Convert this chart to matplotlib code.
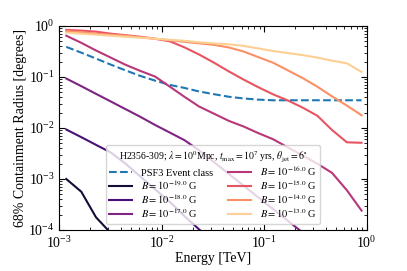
import numpy as np
import matplotlib
matplotlib.use('Agg')
import matplotlib.pyplot as plt

plt.rcParams['font.family'] = ['Liberation Serif', 'DejaVu Serif']
plt.rcParams['mathtext.fontset'] = 'stix'

# energies in TeV (bin centres)
energy = [1.17e-3, 1.64e-3, 2.28e-3, 3.18e-3, 4.43e-3, 6.17e-3, 8.59e-3,
          1.20e-2, 1.67e-2, 2.32e-2, 3.24e-2, 4.51e-2, 6.28e-2, 8.75e-2,
          0.122, 0.170, 0.237, 0.330, 0.459, 0.640, 0.891]

psf3 = [0.39, 0.30, 0.23, 0.175, 0.135, 0.105, 0.085, 0.07, 0.061, 0.052,
        0.046, 0.041, 0.038, 0.036, 0.035, 0.035, 0.035, 0.035, 0.035,
        0.035, 0.035]

# log10 of 68% containment radius [deg] for each field strength
b_labels = ['-19.0', '-18.0', '-17.0', '-16.0', '-15.0', '-14.0', '-13.0']
logr_b19 = [-3.0, -3.25, -3.75, -4.06, -4.4]
logr_b18 = [-2.03, -2.18, -2.33, -2.48, -2.70, -2.95, -3.20, -3.45, -3.73,
            -3.99, -4.25]
logr_b17 = [-1.03, -1.18, -1.33, -1.48, -1.63, -1.78, -1.94, -2.09, -2.24,
            -2.44, -2.67, -2.90, -3.13, -3.36, -3.59, -3.82, -4.05, -4.3]
logr_b16 = [-0.19, -0.33, -0.48, -0.62, -0.76, -0.88, -0.99, -1.19, -1.39,
            -1.58, -1.72, -1.86, -1.97, -2.10, -2.22, -2.38, -2.54, -2.70,
            -2.88, -3.22, -3.62]
logr_b15 = [-0.075, -0.09, -0.11, -0.15, -0.18, -0.21, -0.25, -0.30, -0.42,
            -0.56, -0.72, -0.89, -1.05, -1.20, -1.34, -1.46, -1.60, -1.76,
            -2.04, -2.28, -2.29]
logr_b14 = [-0.10, -0.12, -0.15, -0.17, -0.19, -0.22, -0.25, -0.28, -0.31,
            -0.34, -0.37, -0.42, -0.50, -0.61, -0.72, -0.87, -1.02, -1.19,
            -1.38, -1.56, -1.75]
logr_b13 = [-0.13, -0.15, -0.17, -0.19, -0.21, -0.23, -0.25, -0.27, -0.29,
            -0.32, -0.34, -0.36, -0.39, -0.44, -0.49, -0.53, -0.57, -0.62,
            -0.68, -0.73, -0.90]
curves = [logr_b19, logr_b18, logr_b17, logr_b16, logr_b15, logr_b14, logr_b13]

fig = plt.figure(figsize=(4.07, 2.71), dpi=100)
ax = fig.add_axes([0.1457, 0.1513, 0.7553, 0.7527])

ax.plot(energy, psf3, ls='--', color='#1f77b4', lw=1.5, label='PSF3 Event class')
colors = plt.cm.magma(np.linspace(0.1, 0.9, 7))
for lab, logr, c in zip(b_labels, curves, colors):
    ax.plot(energy[:len(logr)], 10 ** np.array(logr), color=c, lw=1.5,
            label=r'$B = 10^{%s}$ G' % lab)

ax.set_xscale('log')
ax.set_yscale('log')
ax.set_xlim(1e-3, 1)
ax.set_ylim(1e-4, 1)
ax.set_xlabel('Energy [TeV]', fontsize=10, labelpad=1)
ax.set_ylabel('68% Containment Radius [degrees]', fontsize=10, labelpad=1)
ax.tick_params(which='both', direction='in', top=True, right=True, labelsize=10)
ax.tick_params(which='major', length=4)
ax.tick_params(which='minor', length=2)

leg = ax.legend(ncol=2, loc='lower center', fontsize=7.5, title_fontsize=7,
                title=r'H2356-309; $\lambda = 10^0$Mpc, $t_{\max} = 10^7$ yrs, $\theta_{\rm jet} = 6^{\circ}$',
                borderaxespad=0.6, borderpad=0.35, handlelength=2.2,
                labelspacing=0.05, columnspacing=1.5)

fig.savefig('out.png', dpi=100)
